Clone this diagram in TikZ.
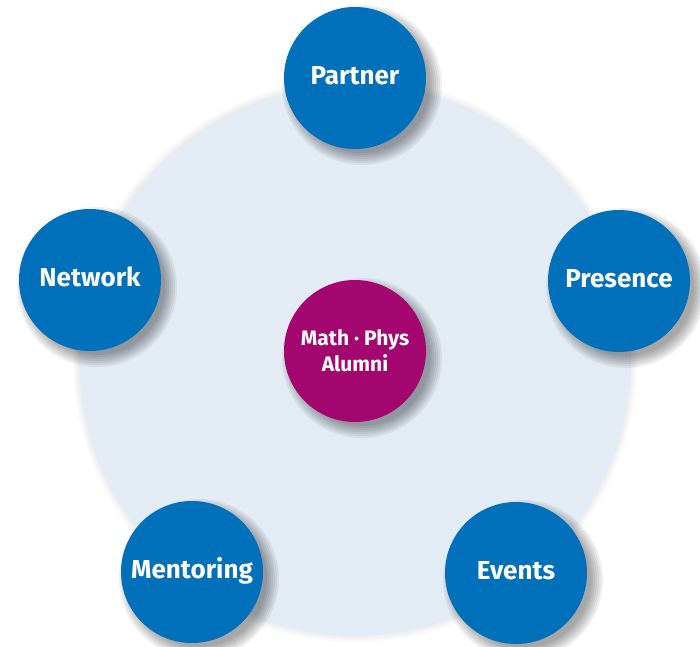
\documentclass[tikz,border=0pt]{standalone}
\usepackage{fontspec}
\setmainfont{Fira Sans}
\definecolor{bblue}{HTML}{0070BA}
\definecolor{mag}{HTML}{A3066F}
\definecolor{pale}{HTML}{E3EBF5}
\begin{document}
\begin{tikzpicture}[x=1pt,y=-1pt,
  shad/.style={fill=black,fill opacity=0.06},
  topic/.style={circle,fill=bblue,minimum size=142pt,inner sep=0pt,text=white,text height=19pt,text depth=7pt,font=\fontsize{26}{28}\selectfont\bfseries},
  hub/.style={circle,fill=mag,minimum size=142pt,inner sep=0pt,text=white,align=center,font=\fontsize{21}{26}\selectfont\bfseries}]
\useasboundingbox (0,0) rectangle (700,646);
% big pale circle with soft rim
\foreach \d in {6,4,2}{\fill[black,opacity=0.02] (355,360) circle ({276+\d});}
\fill[pale] (355,360) circle (276);
% shadows
\foreach \a/\b in {355/78,90/280,619/281,192/572,516/573,355/351}{
  \foreach \r in {80,78,76,74,72,70,68}{\fill[shad] (\a+7,\b+7) circle (\r);}}
\node[hub] (c) at (355,351) {Math · Phys\\Alumni};
\node[topic] (p) at (355,78) {Partner};
\node[topic] (n) at (90,280) {Network};
\node[topic] (pr) at (619,281) {Presence};
\node[topic] (m) at (192,572) {Mentoring};
\node[topic] (e) at (516,573) {Events};
\end{tikzpicture}
\end{document}
